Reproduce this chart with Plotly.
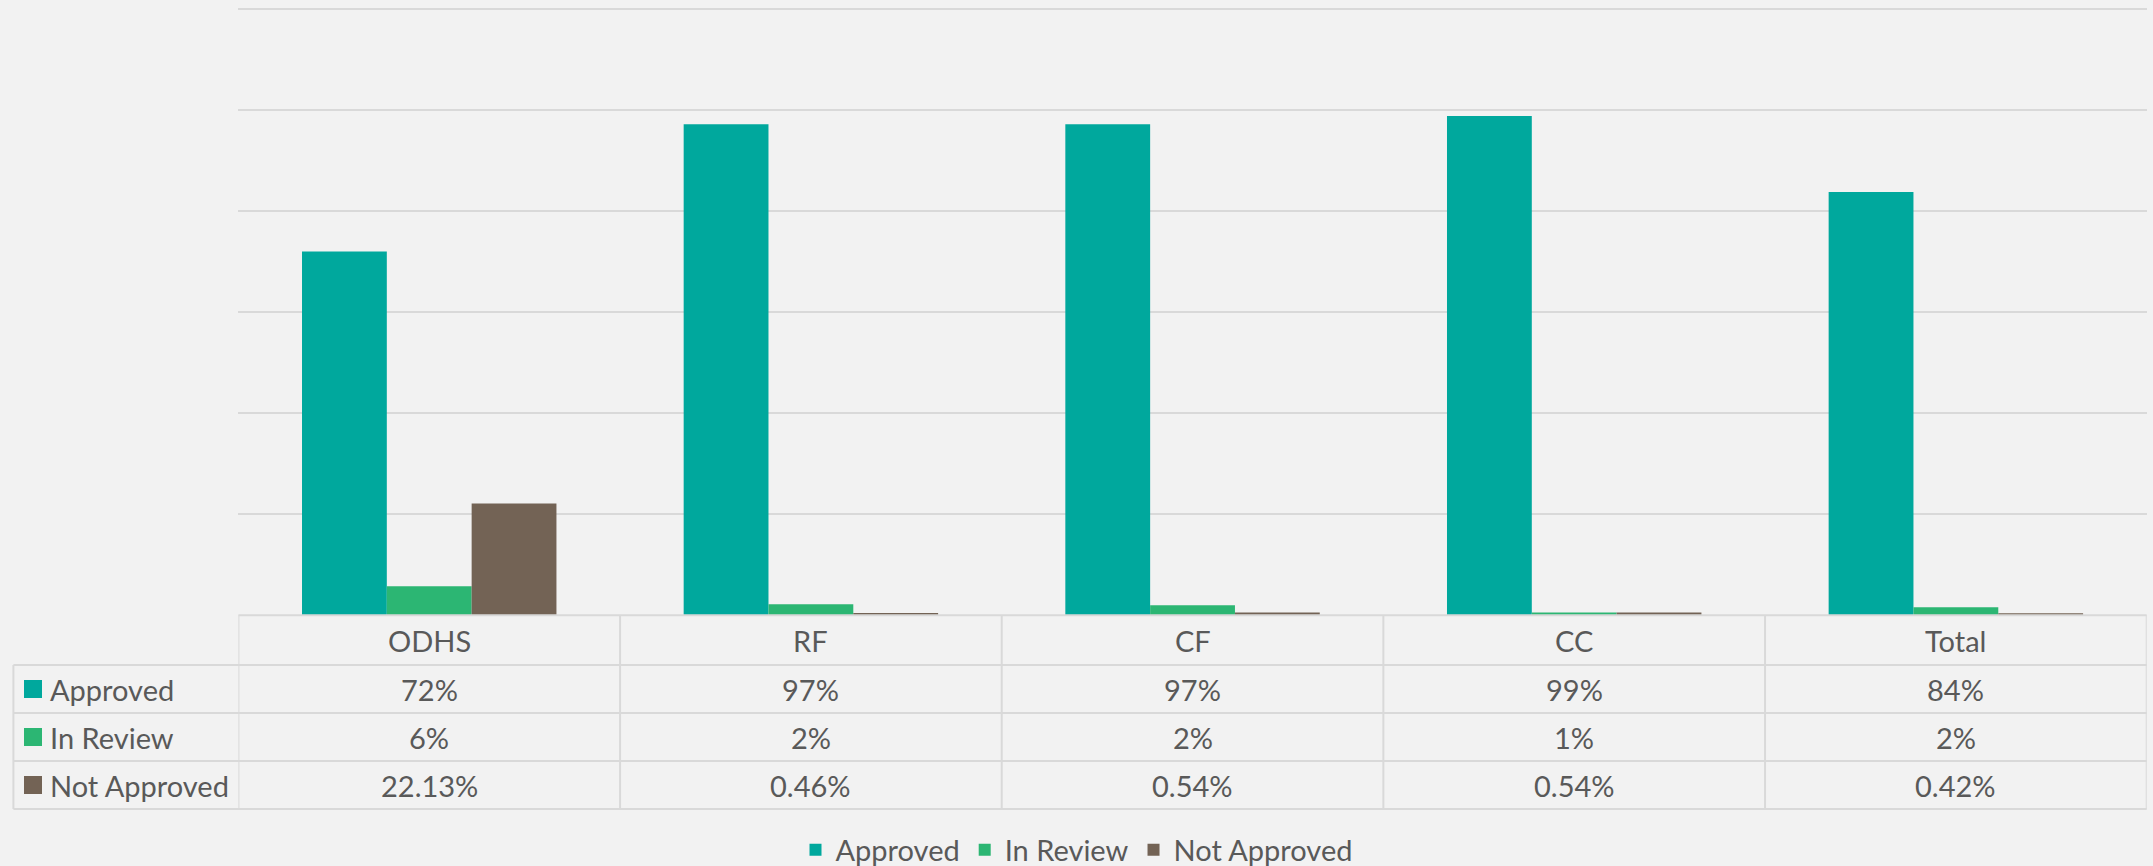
import plotly.graph_objects as go

# ---- data ----
categories = ["ODHS", "RF", "CF", "CC", "Total"]
series_names = ["Approved", "In Review", "Not Approved"]
approved = [0.72, 0.972, 0.972, 0.988, 0.838]
in_review = [0.0574, 0.022, 0.020, 0.0053, 0.016]
not_approved = [0.2213, 0.0046, 0.0054, 0.0054, 0.0042]
label_formats = ["{:.0%}", "{:.0%}", "{:.2%}"]

colors = ["#00A89D", "#2CB673", "#736355"]
series_values = [approved, in_review, not_approved]

W, H = 2153, 866
BG = "#F2F2F2"
TEXT = "#595959"
GRID = "#D9D9D9"
FONT = "Lato"
FS = 29

# plot area in pixels (y max 1.2 gridline at px_top, 0 at px_base)
px_left, px_right = 238.4, 2146.7
px_top, px_base = 9.0, 615.3
y_max = 1.2
pad_px = 4.0
ppu = (px_base - px_top) / y_max
row_lines = [615.3, 665.0, 713.0, 761.0, 809.0]
table_left = 13.4


def fx(px):
    return px / W


def fy(py):
    return (H - py) / H


fig = go.Figure()
for name, vals, col in zip(series_names, series_values, colors):
    fig.add_trace(go.Bar(
        x=categories, y=vals, name=name,
        marker=dict(color=col, line=dict(width=0)),
    ))

shapes = []
annotations = []
line_style = dict(color=GRID, width=2)

# horizontal table lines
shapes.append(dict(type="line", xref="paper", yref="paper",
                   x0=fx(px_left), x1=fx(px_right), y0=fy(row_lines[0]), y1=fy(row_lines[0]),
                   line=line_style, layer="above"))
for r in row_lines[1:]:
    shapes.append(dict(type="line", xref="paper", yref="paper",
                       x0=fx(table_left), x1=fx(px_right), y0=fy(r), y1=fy(r),
                       line=line_style))
# vertical table lines
shapes.append(dict(type="line", xref="paper", yref="paper",
                   x0=fx(table_left), x1=fx(table_left), y0=fy(row_lines[1]), y1=fy(row_lines[-1]),
                   line=line_style))
for k in range(len(categories) + 1):
    xv = k - 0.5
    shapes.append(dict(type="line", xref="x", yref="paper",
                       x0=xv, x1=xv, y0=fy(row_lines[0]), y1=fy(row_lines[-1]),
                       line=line_style))

# header row (categories)
hdr_y = fy((row_lines[0] + row_lines[1]) / 2)
for c in categories:
    annotations.append(dict(x=c, y=hdr_y, xref="x", yref="paper", text=c,
                            showarrow=False, xanchor="center", yanchor="middle",
                            font=dict(family=FONT, size=FS, color=TEXT)))

# data rows
for i, (name, vals, col, fmt) in enumerate(zip(series_names, series_values, colors, label_formats)):
    yc_px = (row_lines[i + 1] + row_lines[i + 2]) / 2
    yc = fy(yc_px)
    shapes.append(dict(type="rect", xref="paper", yref="paper",
                       x0=fx(24), x1=fx(42), y0=fy(yc_px + 9), y1=fy(yc_px - 9),
                       fillcolor=col, line=dict(width=0)))
    annotations.append(dict(x=fx(48), y=yc, xref="paper", yref="paper", text=name,
                            showarrow=False, xanchor="left", yanchor="middle",
                            font=dict(family=FONT, size=FS, color=TEXT)))
    for c, v in zip(categories, vals):
        annotations.append(dict(x=c, y=yc, xref="x", yref="paper", text=fmt.format(v),
                                showarrow=False, xanchor="center", yanchor="middle",
                                font=dict(family=FONT, size=FS, color=TEXT)))

fig.update_layout(
    width=W, height=H,
    margin=dict(l=0, r=0, t=0, b=0, autoexpand=False),
    paper_bgcolor=BG, plot_bgcolor=BG,
    barmode="group", bargap=1.5 / 4.5, bargroupgap=0,
    font=dict(family=FONT, size=FS, color=TEXT),
    xaxis=dict(domain=[fx(px_left), fx(px_right)], showticklabels=False, ticks="",
               showgrid=False, zeroline=False, showline=False,
               range=[-0.5, len(categories) - 0.5]),
    yaxis=dict(domain=[fy(px_base), fy(px_top - pad_px)],
               range=[0, y_max + pad_px / ppu], dtick=0.2,
               showticklabels=False, ticks="", showgrid=True, gridcolor=GRID,
               gridwidth=2, zeroline=False, showline=False),
    legend=dict(orientation="h", x=0.5, xanchor="center", y=fy(850), yanchor="middle",
                font=dict(family=FONT, size=FS, color=TEXT), bgcolor="rgba(0,0,0,0)",
                itemclick=False),
    shapes=shapes, annotations=annotations,
    showlegend=True,
)

post = (
    "document.body.style.margin='0';"
    "document.body.style.background='#F2F2F2';"
)
fig.write_html("out.html", post_script=post,
               config={"displayModeBar": False})
